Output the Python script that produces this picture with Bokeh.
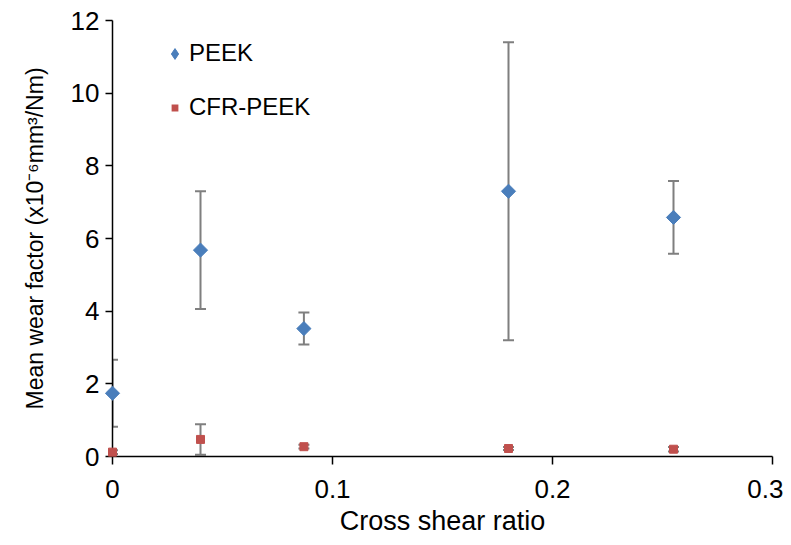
from bokeh.plotting import figure
from bokeh.models import (ColumnDataSource, Whisker, Legend, LegendItem, Range1d,
                          FixedTicker, TeeHead)
from bokeh.embed import file_html
from bokeh.resources import INLINE

# ---- data ----
ratio = [0.0, 0.04, 0.087, 0.18, 0.255]
peek_mean = [1.74, 5.68, 3.52, 7.30, 6.58]
peek_err = [0.92, 1.62, 0.44, 4.10, 1.00]
cfr_mean = [0.12, 0.47, 0.27, 0.22, 0.20]
cfr_err = [0.05, 0.42, 0.05, 0.04, 0.06]

x_ticks = [0, 0.1, 0.2, 0.3]
x_tick_labels = ["0", "0.1", "0.2", "0.3"]
y_ticks = [0, 2, 4, 6, 8, 10, 12]
y_tick_labels = ["0", "2", "4", "6", "8", "10", "12"]

FONT = "Liberation Sans"
BLUE = "#4A7EBB"
RED = "#C0504D"
ERR = "#7F7F7F"

peek_src = ColumnDataSource(dict(
    x=ratio, y=peek_mean,
    lo=[m - e for m, e in zip(peek_mean, peek_err)],
    hi=[m + e for m, e in zip(peek_mean, peek_err)]))
cfr_src = ColumnDataSource(dict(
    x=ratio, y=cfr_mean,
    lo=[m - e for m, e in zip(cfr_mean, cfr_err)],
    hi=[m + e for m, e in zip(cfr_mean, cfr_err)]))

p = figure(frame_width=660, frame_height=436,
           x_range=Range1d(0, 0.3), y_range=Range1d(0, 12.0),
           output_backend="svg", toolbar_location=None,
           min_border_left=112, min_border_top=20, min_border_right=11,
           min_border_bottom=84)
p.outline_line_color = None
p.xgrid.visible = False
p.ygrid.visible = False
p.background_fill_color = "white"
p.border_fill_color = "white"

for src in (peek_src, cfr_src):
    w = Whisker(source=src, base="x", lower="lo", upper="hi",
                line_color=ERR, line_width=2, level="underlay",
                upper_head=TeeHead(size=11, line_color=ERR, line_width=2),
                lower_head=TeeHead(size=11, line_color=ERR, line_width=2))
    p.add_layout(w)

r_peek = p.scatter("x", "y", source=peek_src, marker="square", angle=0.785398,
                   size=10, fill_color=BLUE, line_color=BLUE, level="overlay")
r_cfr = p.scatter("x", "y", source=cfr_src, marker="square",
                  size=8, fill_color=RED, line_color=RED, level="overlay")

# legend-only glyphs (same data, hidden in the plot)
l_peek = p.scatter("x", "y", source=peek_src, marker="diamond",
                   fill_color=BLUE, line_color=BLUE, visible=False)
l_cfr = p.scatter("x", "y", source=cfr_src, marker="square",
                  fill_color=RED, line_color="white", line_width=4, visible=False)

# axes
for ax in (p.xaxis[0], p.yaxis[0]):
    ax.axis_line_color = "black"
    ax.axis_line_width = 1.5
    ax.major_tick_line_color = "black"
    ax.major_tick_line_width = 1.5
    ax.major_tick_in = 0
    ax.minor_tick_line_color = None
    ax.major_label_text_font = FONT
    ax.major_label_text_font_size = "26px"
    ax.major_label_text_color = "black"
    ax.axis_label_text_font = FONT
    ax.axis_label_text_font_style = "normal"
    ax.axis_label_text_color = "black"

p.xaxis[0].ticker = FixedTicker(ticks=x_ticks)
p.xaxis[0].major_label_overrides = {str(t): l for t, l in zip(x_ticks, x_tick_labels)}
p.xaxis[0].major_tick_out = 8
p.xaxis[0].major_label_standoff = 15
p.xaxis[0].axis_label = "Cross shear ratio"
p.xaxis[0].axis_label_text_font_size = "27px"
p.xaxis[0].axis_label_standoff = 5

p.yaxis[0].ticker = FixedTicker(ticks=y_ticks)
p.yaxis[0].major_label_overrides = {str(t): l for t, l in zip(y_ticks, y_tick_labels)}
p.yaxis[0].major_tick_out = 7
p.yaxis[0].major_label_standoff = 6
p.yaxis[0].axis_label = "Mean wear factor (x10\u207b\u2076mm\u00b3/Nm)"
p.yaxis[0].axis_label_text_font_size = "23px"
p.yaxis[0].axis_label_standoff = 20

legend = Legend(items=[LegendItem(label="PEEK", renderers=[l_peek]),
                       LegendItem(label="CFR-PEEK", renderers=[l_cfr])],
                location=(49, 335), orientation="vertical",
                glyph_width=27, glyph_height=27, label_height=24,
                spacing=26, padding=0, margin=0, label_standoff=1,
                border_line_color=None, background_fill_alpha=0,
                inactive_fill_alpha=0,
                label_text_font=FONT, label_text_font_size="24px",
                label_text_color="black")
p.add_layout(legend)

open("out.html", "w").write(file_html(p, INLINE))
